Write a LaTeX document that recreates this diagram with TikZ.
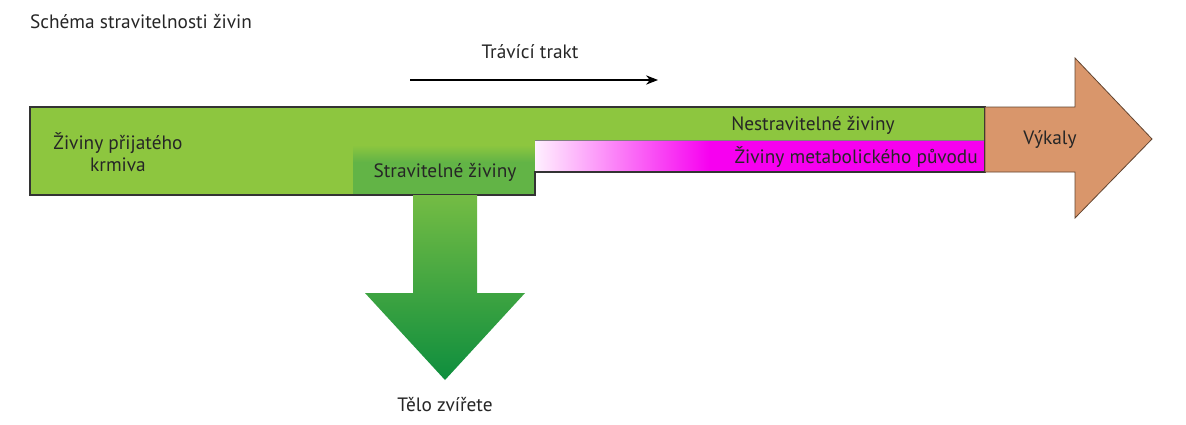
\documentclass[tikz,border=0pt]{standalone}
\usepackage{fontspec}
\setmainfont{PT Sans}
\usetikzlibrary{arrows.meta}
\definecolor{barg}{HTML}{8DC63F}
\definecolor{darkg}{HTML}{62B446}
\definecolor{arrtop}{HTML}{74BC44}
\definecolor{arrbot}{HTML}{0E8E3E}
\definecolor{feces}{HTML}{D9966B}
\definecolor{mag}{HTML}{F700F0}
\begin{document}
\begin{tikzpicture}[x=0.75pt,y=-0.75pt,
  lbl/.style={font=\fontsize{14.5}{16.5}\selectfont, text=black!85, inner sep=0pt, align=center},
  outline/.style={draw=black!80, line width=0.8pt}]
\useasboundingbox (0,0) rectangle (1186,425);
\fill[white] (0,0) rectangle (1186,425);
% main green bar
\fill[barg] (30,107) -- (985,107) -- (985,172) -- (535,172) -- (535,195) -- (30,195) -- cycle;
% darker digestible region
\shade[top color=barg, bottom color=darkg] (353,145) rectangle (535,162);
\fill[darkg] (353,162) rectangle (535,195);
% metabolic band
\fill[mag] (535,140) rectangle (985,172);
\shade[left color=mag!6, right color=mag] (535,140) rectangle (710,172);
\draw[black!50, line width=0.5pt] (535,140) -- (985,140);
\draw[outline] (30,107) -- (985,107) -- (985,172) -- (535,172) -- (535,195) -- (30,195) -- cycle;
% faeces arrow
\filldraw[fill=feces, draw=black!55!feces, line width=0.6pt]
  (985,107) -- (1075,107) -- (1075,58) -- (1152,139) -- (1075,218) -- (1075,172) -- (985,172) -- cycle;
% down arrow to body
\shade[top color=arrtop, bottom color=arrbot]
  (413,195) -- (477,195) -- (477,293) -- (525,293) -- (445,380) -- (365,293) -- (413,293) -- cycle;
% digestive tract arrow
\coordinate (t1) at (410,80);
\coordinate (t2) at (658,80);
\draw[black, line width=0.8pt, -{Stealth[length=9pt,width=7pt]}] (t1) -- (t2);
% labels
\node[lbl] (title) at (141,22) {Schéma stravitelnosti živin};
\node[lbl] (trakt) at (530,52) {Trávící trakt};
\node[lbl] (krm) at (118,152) {Živiny přijatého\\krmiva};
\node[lbl] (strav) at (445,172) {Stravitelné živiny};
\node[lbl] (nestrav) at (813,125) {Nestravitelné živiny};
\node[lbl, anchor=east] (metab) at (978,157) {Živiny metabolického původu};
\node[lbl] (vyk) at (1050,140) {Výkaly};
\node[lbl] (telo) at (445,405) {Tělo zvířete};
\end{tikzpicture}
\end{document}
